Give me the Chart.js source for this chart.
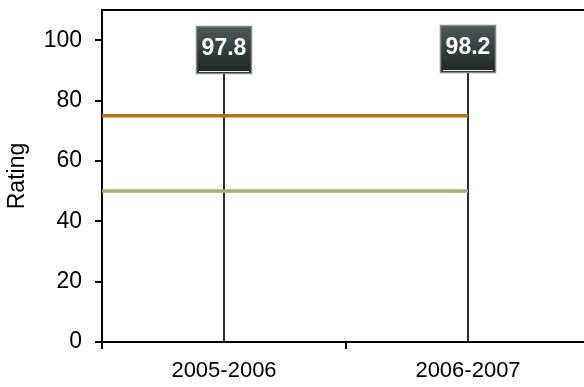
<!DOCTYPE html>
<html>
<head>
<meta charset="utf-8">
<script src="https://cdn.jsdelivr.net/npm/chart.js@4/dist/chart.umd.min.js"></script>
<style>
  html, body { margin: 0; padding: 0; background: #fff; overflow: hidden; }
  #wrap { width: 600px; height: 387px; }
</style>
</head>
<body>
<div id="wrap"><canvas id="ratingChart"></canvas></div>
<script>
// Chart data
const periods = ['2005-2006', '2006-2007'];
const periodPos = [0.5, 1.5];
const ratings = [97.8, 98.2];
const upperRef = [75, 75];
const lowerRef = [50, 50];
const refPos = [0, 1.5];
const yTicks = [0, 20, 40, 60, 80, 100];

const FONT = '"Liberation Sans", Arial, Helvetica, sans-serif';

// dark value boxes drawn on top of the needle bars
const valueBoxes = {
    id: 'valueBoxes',
    afterDatasetsDraw(chart) {
        const ctx = chart.ctx;
        const meta = chart.getDatasetMeta(0);
        meta.data.forEach((bar, i) => {
            const w = 56, h = 48;
            const left = Math.round(bar.x - w / 2);
            const top = Math.round(bar.y - 21);
            ctx.save();
            const grad = ctx.createLinearGradient(0, top, 0, top + h);
            grad.addColorStop(0, '#4d5a5a');
            grad.addColorStop(1, '#1d2323');
            ctx.fillStyle = grad;
            ctx.fillRect(left, top, w, h);
            ctx.strokeStyle = '#7f8a8a';
            ctx.lineWidth = 1.5;
            ctx.strokeRect(left + 0.5, top + 0.5, w - 1, h - 1);
            ctx.strokeStyle = '#e6eaea';
            ctx.lineWidth = 1;
            ctx.beginPath();
            ctx.moveTo(left + 3, top + h - 2.5);
            ctx.lineTo(left + w - 3, top + h - 2.5);
            ctx.stroke();
            ctx.fillStyle = '#ffffff';
            ctx.font = 'bold 23px ' + FONT;
            ctx.textAlign = 'center';
            ctx.textBaseline = 'middle';
            ctx.fillText(ratings[i].toFixed(1), left + w / 2, top + h / 2 - 1);
            ctx.restore();
        });
    }
};

const ctx = document.getElementById('ratingChart').getContext('2d');
new Chart(ctx, {
    type: 'line',
    data: {
        datasets: [
            {
                type: 'bar',
                label: 'Rating',
                data: periodPos.map((x, i) => ({ x: x, y: ratings[i] })),
                backgroundColor: '#000000',
                barThickness: 1,
                order: 2
            },
            {
                label: 'Upper',
                data: refPos.map((x, i) => ({ x: x, y: upperRef[i] })),
                borderColor: '#b8720c',
                borderWidth: 3.5,
                borderCapStyle: 'butt',
                pointRadius: 0,
                order: 1
            },
            {
                label: 'Lower',
                data: refPos.map((x, i) => ({ x: x, y: lowerRef[i] })),
                borderColor: '#a2b26f',
                borderWidth: 3.5,
                borderCapStyle: 'butt',
                pointRadius: 0,
                order: 1
            }
        ]
    },
    options: {
        responsive: true,
        maintainAspectRatio: false,
        animation: false,
        layout: { padding: { top: 10, right: 10, bottom: 0, left: 0 } },
        plugins: {
            legend: { display: false },
            tooltip: { enabled: false }
        },
        scales: {
            x: {
                type: 'linear',
                min: 0,
                max: 2,
                offset: false,
                afterBuildTicks: s => {
                    s.ticks = [0, 0.5, 1, 1.5, 2].map(v => ({ value: v }));
                },
                afterFit: s => {
                    s.height = 45;
                    s.paddingLeft = 0;
                    s.paddingRight = 0;
                },
                grid: {
                    offset: false,
                    drawOnChartArea: false,
                    tickLength: 7,
                    lineWidth: 2,
                    color: c => (c.tick && c.tick.value % 1 === 0) ? '#000' : 'rgba(0,0,0,0)'
                },
                border: { color: '#000', width: 2 },
                ticks: {
                    autoSkip: false,
                    maxRotation: 0,
                    padding: 9,
                    color: '#000',
                    font: { family: FONT, size: 22 },
                    callback: v => {
                        const i = periodPos.indexOf(v);
                        return i >= 0 ? periods[i] : '';
                    }
                }
            },
            x2: {
                type: 'linear',
                position: 'top',
                min: 0,
                max: 2,
                afterFit: s => {
                    s.height = 0;
                    s.paddingLeft = 0;
                    s.paddingRight = 0;
                },
                grid: { display: false },
                ticks: { display: false },
                border: { color: '#000', width: 2 }
            },
            y: {
                min: 0,
                max: 110,
                afterBuildTicks: s => {
                    s.ticks = yTicks.map(v => ({ value: v }));
                },
                afterFit: s => {
                    s.width = 102;
                    s.paddingTop = 0;
                    s.paddingBottom = 0;
                },
                grid: {
                    offset: false,
                    drawOnChartArea: false,
                    tickLength: 7,
                    lineWidth: 2,
                    color: '#000'
                },
                border: { color: '#000', width: 2 },
                ticks: {
                    padding: 13,
                    color: '#000',
                    font: { family: FONT, size: 23 }
                },
                title: {
                    display: true,
                    text: 'Rating',
                    color: '#000',
                    font: { family: FONT, size: 23 },
                    padding: { top: 4, bottom: 0 }
                }
            }
        }
    },
    plugins: [valueBoxes]
});
</script>
</body>
</html>
